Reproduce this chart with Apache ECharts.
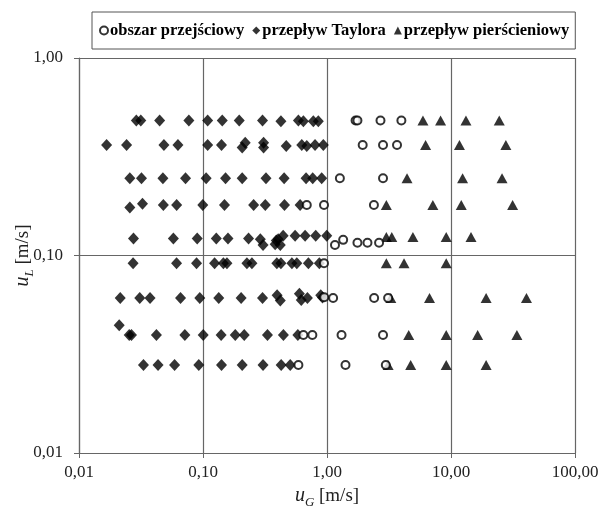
<!DOCTYPE html>
<html>
<head>
<meta charset="utf-8">
<script src="https://cdn.jsdelivr.net/npm/echarts@6/dist/echarts.min.js"></script>
<style>
html,body{margin:0;padding:0;background:#fff;}
#c{width:603px;height:507px;}
</style>
</head>
<body>
<div id="c"></div>
<script>
const seriesNames = ['obszar przejściowy', 'przepływ Taylora', 'przepływ pierścieniowy'];
const xTicks = [0.01, 0.1, 1, 10, 100];
const yTicks = [0.01, 0.1, 1];

// obszar przejściowy (open circles) [uG, uL]
const transitionPoints = [
  [1.70,0.483],[1.76,0.483],[2.70,0.483],[3.98,0.483],
  [1.94,0.363],[2.83,0.363],[3.67,0.363],
  [1.27,0.246],[2.83,0.246],
  [0.687,0.180],[0.946,0.180],[2.39,0.180],
  [1.16,0.113],[1.35,0.120],[1.76,0.116],[2.12,0.116],[2.63,0.116],
  [0.946,0.0913],
  [0.95,0.0615],[1.12,0.0609],[2.40,0.0609],[3.11,0.0609],
  [0.645,0.0396],[0.762,0.0396],[1.31,0.0396],[2.83,0.0396],
  [0.588,0.0279],[1.41,0.0279],[2.98,0.0279]
];

// przepływ Taylora (diamonds) [uG, uL]
const taylorPoints = [
  [0.029,0.483],[0.0315,0.483],[0.0447,0.483],[0.0769,0.483],[0.109,0.483],[0.143,0.483],[0.196,0.483],[0.302,0.483],[0.425,0.478],[0.588,0.483],[0.645,0.478],[0.776,0.478],[0.851,0.478],
  [0.0167,0.363],[0.0242,0.363],[0.0484,0.363],[0.0628,0.363],[0.109,0.363],[0.141,0.363],[0.207,0.352],[0.219,0.372],[0.308,0.372],[0.308,0.352],[0.469,0.358],[0.626,0.363],[0.687,0.358],[0.801,0.363],[0.934,0.363],
  [0.0257,0.246],[0.0319,0.246],[0.0475,0.246],[0.0723,0.246],[0.106,0.246],[0.152,0.246],[0.207,0.246],[0.322,0.246],[0.451,0.246],[0.678,0.246],[0.767,0.246],[0.906,0.246],
  [0.0257,0.175],[0.0325,0.183],[0.0479,0.180],[0.0613,0.180],[0.0996,0.180],[0.149,0.180],[0.256,0.180],[0.318,0.180],[0.454,0.180],[0.607,0.180],
  [0.0275,0.122],[0.0577,0.122],[0.0898,0.122],[0.128,0.122],[0.159,0.122],[0.233,0.122],[0.290,0.121],[0.305,0.113],[0.382,0.114],[0.390,0.119],[0.404,0.121],[0.443,0.126],[0.420,0.113],[0.553,0.126],[0.666,0.126],[0.811,0.126],[0.995,0.126],
  [0.0273,0.0913],[0.0612,0.0913],[0.0887,0.0913],[0.124,0.0913],[0.146,0.0913],[0.156,0.0913],[0.226,0.0913],[0.248,0.0913],[0.394,0.0913],[0.425,0.0913],[0.521,0.0913],[0.571,0.0913],[0.708,0.0913],[0.867,0.0913],
  [0.0215,0.0609],[0.0309,0.0609],[0.0374,0.0609],[0.0659,0.0609],[0.0942,0.0609],[0.134,0.0609],[0.203,0.0609],[0.302,0.0609],[0.396,0.0630],[0.420,0.0592],[0.599,0.0640],[0.620,0.0595],[0.695,0.0609],[0.890,0.0630],[0.920,0.0612],
  [0.0211,0.0443],
  [0.0254,0.0396],[0.0265,0.0396],[0.0421,0.0396],[0.0714,0.0396],[0.1004,0.0396],[0.140,0.0396],[0.182,0.0396],[0.215,0.0396],[0.331,0.0396],[0.445,0.0396],[0.582,0.0396],
  [0.0331,0.0279],[0.0434,0.0279],[0.059,0.0279],[0.0925,0.0279],[0.141,0.0279],[0.207,0.0279],[0.305,0.0279],[0.427,0.0279],[0.505,0.0279]
];

// przepływ pierścieniowy (triangles) [uG, uL]
const annularPoints = [
  [5.94,0.483],[8.24,0.483],[13.2,0.483],[24.5,0.483],
  [6.24,0.363],[11.7,0.363],[27.7,0.363],
  [4.42,0.246],[12.4,0.246],[25.8,0.246],
  [3.01,0.180],[7.14,0.180],[12.1,0.180],[31.4,0.180],
  [3.01,0.124],[3.33,0.124],[4.93,0.124],[9.15,0.124],[14.5,0.124],
  [3.01,0.0913],[4.18,0.0913],[9.15,0.0913],
  [3.27,0.0609],[6.71,0.0609],[19.2,0.0609],[40.6,0.0609],
  [4.56,0.0396],[9.15,0.0396],[16.4,0.0396],[34.0,0.0396],
  [3.11,0.0279],[4.73,0.0279],[9.15,0.0279],[19.2,0.0279]
];

const fmt = v => Number(v).toFixed(2).replace('.', ',');
const serif = '"Liberation Serif", "DejaVu Serif", serif';
const nameRich = {
  u: {fontFamily: serif, fontStyle: 'italic', fontSize: 20, color: '#222', lineHeight: 22, verticalAlign: 'bottom'},
  g: {fontFamily: serif, fontStyle: 'italic', fontSize: 13, color: '#222', lineHeight: 22, verticalAlign: 'bottom', padding: [0,0,-3,0]},
  t: {fontFamily: serif, fontSize: 19, color: '#222', lineHeight: 22, verticalAlign: 'bottom'}
};

const chart = echarts.init(document.getElementById('c'), null, {renderer: 'canvas'});
chart.setOption({
  backgroundColor: '#fff',
  animation: false,
  textStyle: {fontFamily: serif},
  grid: {left: 79, right: 28, top: 58, bottom: 54, containLabel: false, outerBoundsMode: 'none'},
  legend: {
    left: 92, top: 12,
    data: seriesNames,
    itemWidth: 8, itemHeight: 8, itemGap: 8,
    padding: [10, 6, 10, 7],
    borderColor: '#555', borderWidth: 1,
    textStyle: {fontFamily: serif, fontWeight: 'bold', fontSize: 16.5, color: '#000', padding: [0,0,0,-3]}
  },
  xAxis: {
    type: 'log', logBase: 10, min: xTicks[0], max: xTicks[xTicks.length-1],
    axisLine: {lineStyle: {color: '#666', width: 1.2}},
    axisTick: {show: true, inside: false, length: 5, lineStyle: {color: '#666'}},
    splitLine: {show: true, lineStyle: {color: '#666', width: 1.2}},
    minorTick: {show: false},
    axisLabel: {formatter: fmt, fontFamily: serif, fontSize: 17, color: '#222', margin: 11},
    name: '{u|u}{g|G}{t| [m/s]}',
    nameLocation: 'middle', nameGap: 26,
    nameTextStyle: {rich: nameRich}
  },
  yAxis: {
    type: 'log', logBase: 10, min: yTicks[0], max: yTicks[yTicks.length-1],
    axisLine: {show: true, lineStyle: {color: '#666', width: 1.2}},
    axisTick: {show: true, inside: false, length: 5, lineStyle: {color: '#666'}},
    splitLine: {show: true, lineStyle: {color: '#666', width: 1.2}},
    axisLabel: {formatter: fmt, fontFamily: serif, fontSize: 17, color: '#222', margin: 16},
    name: '{u|u}{g|L}{t| [m/s]}',
    nameLocation: 'middle', nameGap: 46, nameRotate: 90, nameMoveOverlap: false,
    nameTextStyle: {rich: nameRich}
  },
  series: [
    {name: seriesNames[0], type: 'scatter', data: transitionPoints, symbol: 'circle', symbolSize: 8,
     itemStyle: {color: '#fff', borderColor: '#000', borderWidth: 2}, z: 3},
    {name: seriesNames[1], type: 'scatter', data: taylorPoints, symbol: 'diamond', symbolSize: [11, 12],
     itemStyle: {color: '#000'}, z: 2},
    {name: seriesNames[2], type: 'scatter', data: annularPoints, symbol: 'triangle', symbolSize: [11, 10],
     itemStyle: {color: '#000'}, z: 2}
  ]
});
</script>
</body>
</html>
